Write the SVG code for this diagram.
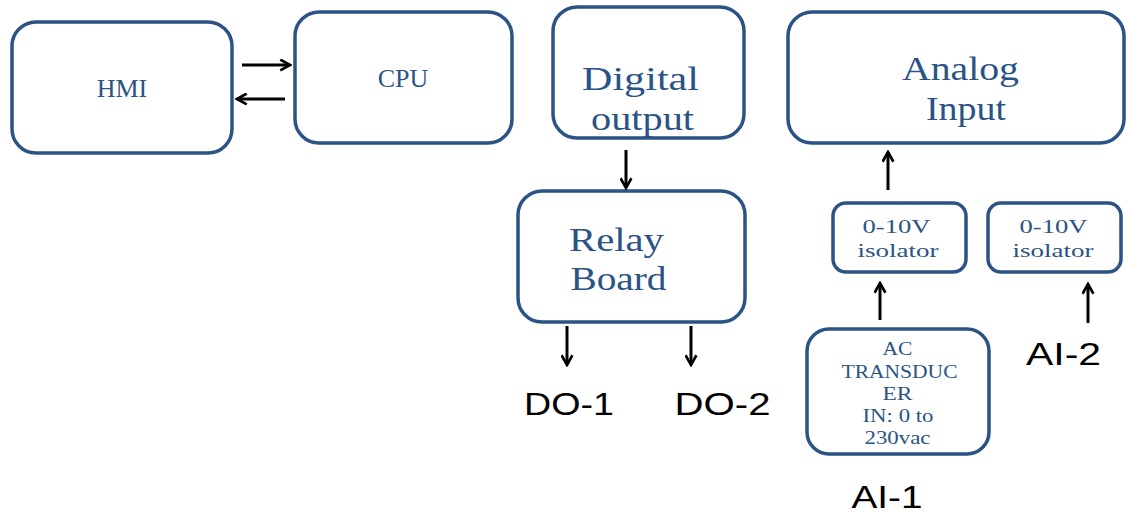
<svg xmlns="http://www.w3.org/2000/svg" width="1127" height="514" viewBox="0 0 1127 514">
<defs>
<marker id="ah" viewBox="0 0 12 12" refX="10" refY="6" markerWidth="13" markerHeight="13" markerUnits="userSpaceOnUse" orient="auto">
<path d="M1,1 L10,6 L1,11" fill="none" stroke="#000" stroke-width="2.4"/>
</marker>
<style>
.box{fill:#fff;stroke:#2b5385;stroke-width:3.5}
.t{font-family:"Liberation Serif",serif;fill:#2b5385;text-anchor:middle}
.lbl{font-family:"Liberation Sans",sans-serif;fill:#000;text-anchor:middle}
.c{stroke:#000;stroke-width:3;fill:none;marker-end:url(#ah)}
</style>
</defs>
<rect width="1127" height="514" fill="#fff"/>
<g id="hmi"><rect class="box" x="12" y="22" width="220" height="131" rx="24"/><text class="t" x="122" y="97" font-size="26">HMI</text></g>
<g id="cpu"><rect class="box" x="295" y="12" width="217" height="131" rx="24"/><text class="t" x="403" y="87" font-size="26">CPU</text></g>
<g id="digital"><rect class="box" x="553" y="7" width="191" height="131" rx="24"/><text class="t" x="640.5" y="90" font-size="33" textLength="117" lengthAdjust="spacingAndGlyphs">Digital</text><text class="t" x="642.5" y="130" font-size="33" textLength="103" lengthAdjust="spacingAndGlyphs">output</text></g>
<g id="analog"><rect class="box" x="788" y="12" width="336" height="131" rx="24"/><text class="t" x="960.5" y="80" font-size="33" textLength="117" lengthAdjust="spacingAndGlyphs">Analog</text><text class="t" x="966" y="120" font-size="33" textLength="80" lengthAdjust="spacingAndGlyphs">Input</text></g>
<g id="relay"><rect class="box" x="518" y="191" width="227" height="131" rx="24"/><text class="t" x="616.5" y="251" font-size="33" textLength="95" lengthAdjust="spacingAndGlyphs">Relay</text><text class="t" x="618.5" y="290" font-size="33" textLength="96" lengthAdjust="spacingAndGlyphs">Board</text></g>
<g id="iso1"><rect class="box" x="833" y="203" width="133" height="69" rx="13"/><text class="t" x="896.5" y="233" font-size="19" textLength="68" lengthAdjust="spacingAndGlyphs">0-10V</text><text class="t" x="898" y="257" font-size="19" textLength="81" lengthAdjust="spacingAndGlyphs">isolator</text></g>
<g id="iso2"><rect class="box" x="988" y="203" width="133" height="69" rx="13"/><text class="t" x="1053.5" y="233" font-size="19" textLength="68" lengthAdjust="spacingAndGlyphs">0-10V</text><text class="t" x="1053" y="257" font-size="19" textLength="81" lengthAdjust="spacingAndGlyphs">isolator</text></g>
<g id="transducer"><rect class="box" x="807" y="329" width="182" height="125" rx="22"/>
<text class="t" x="897.5" y="355" font-size="19" textLength="30" lengthAdjust="spacingAndGlyphs">AC</text>
<text class="t" x="899.5" y="378" font-size="19" textLength="116" lengthAdjust="spacingAndGlyphs">TRANSDUC</text>
<text class="t" x="897.5" y="400" font-size="19" textLength="30" lengthAdjust="spacingAndGlyphs">ER</text>
<text class="t" x="898" y="422" font-size="19" textLength="71" lengthAdjust="spacingAndGlyphs">IN: 0 to</text>
<text class="t" x="897.5" y="444" font-size="19" textLength="66" lengthAdjust="spacingAndGlyphs">230vac</text></g>
<g id="labels">
<text class="lbl" x="569" y="415" font-size="31" textLength="90" lengthAdjust="spacingAndGlyphs">DO-1</text>
<text class="lbl" x="722.5" y="415" font-size="31" textLength="96" lengthAdjust="spacingAndGlyphs">DO-2</text>
<text class="lbl" x="1063.5" y="365" font-size="31" textLength="75" lengthAdjust="spacingAndGlyphs">AI-2</text>
<text class="lbl" x="887" y="508" font-size="31" textLength="71" lengthAdjust="spacingAndGlyphs">AI-1</text>
</g>
<g id="connectors">
<line class="c" x1="242" y1="65" x2="290" y2="65"/>
<line class="c" x1="285" y1="99" x2="237" y2="99"/>
<line class="c" x1="626" y1="150" x2="626" y2="188"/>
<line class="c" x1="567" y1="326" x2="567" y2="365"/>
<line class="c" x1="691" y1="326" x2="691" y2="365"/>
<line class="c" x1="888" y1="190" x2="888" y2="152"/>
<line class="c" x1="880" y1="320" x2="880" y2="283"/>
<line class="c" x1="1088" y1="323" x2="1088" y2="284"/>
</g>
</svg>
